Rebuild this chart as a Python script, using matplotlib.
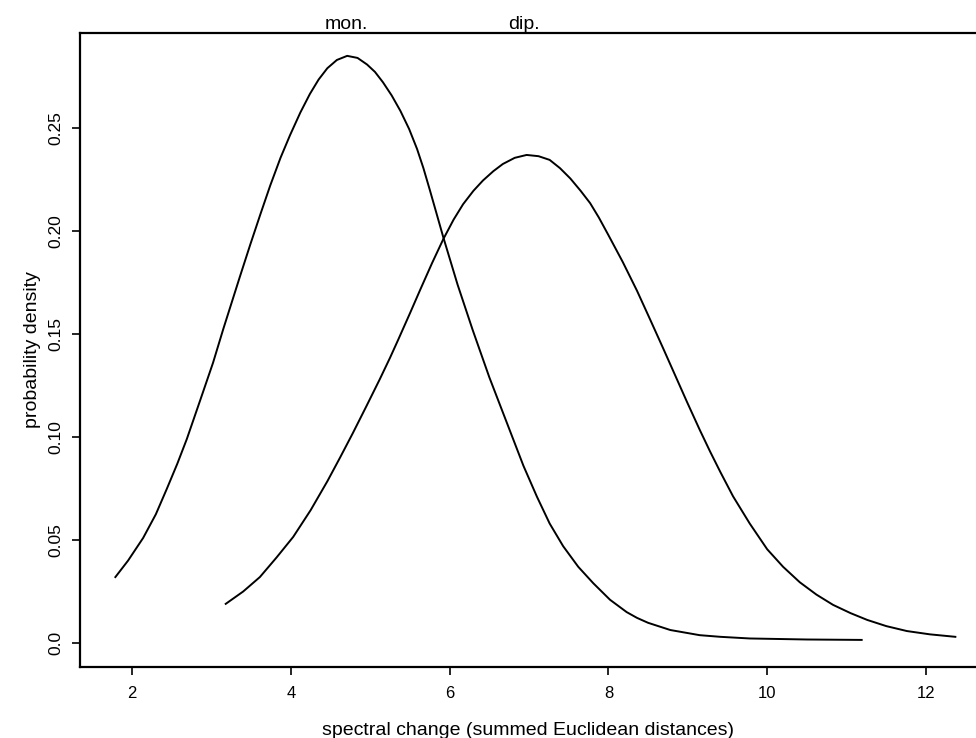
import matplotlib
matplotlib.use("Agg")
import matplotlib.pyplot as plt

plt.rcParams['font.family'] = ['Liberation Sans', 'DejaVu Sans']

# curves
mon_x = [1.79, 1.95, 2.14, 2.30, 2.44, 2.57, 2.69, 2.86, 3.02, 3.15, 3.36, 3.49,
         3.62, 3.74, 3.87, 3.99, 4.12, 4.24, 4.35, 4.46, 4.58, 4.71, 4.84, 4.96,
         5.06, 5.16, 5.27, 5.38, 5.49, 5.59, 5.67, 5.75, 5.83, 5.92, 6.10, 6.29,
         6.50, 6.76, 6.93, 7.10, 7.26, 7.43, 7.62, 7.81, 8.02, 8.23, 8.36, 8.50,
         8.78, 9.15, 9.41, 9.78, 10.5, 11.19]
mon_y = [0.032, 0.040, 0.051, 0.0625, 0.075, 0.087, 0.099, 0.118, 0.136, 0.1525,
         0.178, 0.1935, 0.2085, 0.222, 0.2355, 0.2465, 0.2575, 0.2665, 0.2735,
         0.2790, 0.2830, 0.2850, 0.2840, 0.2808, 0.2772, 0.2722, 0.2658, 0.2583,
         0.2495, 0.2398, 0.2305, 0.2200, 0.2092, 0.197, 0.174, 0.152, 0.129, 0.103,
         0.086, 0.071, 0.058, 0.047, 0.037, 0.029, 0.021, 0.0150, 0.0122, 0.0098,
         0.0063, 0.0038, 0.0030, 0.0022, 0.0017, 0.0015]

dip_x = [3.18, 3.40, 3.61, 3.82, 4.03, 4.25, 4.46, 4.62, 4.78, 4.95, 5.12, 5.25,
         5.35, 5.50, 5.63, 5.78, 5.92, 6.05, 6.17, 6.30, 6.42, 6.55, 6.67, 6.82,
         6.97, 7.12, 7.26, 7.39, 7.52, 7.65, 7.77, 7.88, 8.00, 8.18, 8.36, 8.52,
         8.69, 8.84, 8.99, 9.15, 9.28, 9.41, 9.57, 9.78, 10.0, 10.2, 10.41, 10.62,
         10.83, 11.05, 11.26, 11.5, 11.76, 12.05, 12.37]
dip_y = [0.019, 0.025, 0.032, 0.0415, 0.0515, 0.0645, 0.0785, 0.090, 0.1018,
         0.1148, 0.128, 0.1385, 0.147, 0.160, 0.1715, 0.1845, 0.196, 0.2055,
         0.213, 0.2195, 0.2245, 0.229, 0.2325, 0.2355, 0.2369, 0.2363, 0.2345,
         0.2305, 0.2255, 0.2195, 0.2135, 0.2065, 0.198, 0.185, 0.171, 0.1575, 0.143,
         0.130, 0.117, 0.1035, 0.093, 0.083, 0.0712, 0.058, 0.0455, 0.037, 0.0295,
         0.0235, 0.0185, 0.0145, 0.0112, 0.0082, 0.0058, 0.0042, 0.0030]

x_ticks = [2, 4, 6, 8, 10, 12]
y_ticks = [0.0, 0.05, 0.10, 0.15, 0.20, 0.25]
y_tick_labels = ["0.0", "0.05", "0.10", "0.15", "0.20", "0.25"]

peak_labels = ["mon.", "dip."]
peak_pos = [4.70, 6.93]

fig = plt.figure(figsize=(9.76, 7.38), dpi=100)
ax = fig.add_axes([0.082, 0.0962, 0.918, 0.8591])

ax.plot(mon_x, mon_y, color="black", lw=1.4)
ax.plot(dip_x, dip_y, color="black", lw=1.4)

ax.set_xlim(1.345, 12.63)
ax.set_ylim(-0.01165, 0.2961)

ax.set_xticks(x_ticks)
ax.set_xticklabels([str(t) for t in x_ticks], fontsize=12)
ax.set_yticks(y_ticks)
ax.set_yticklabels(y_tick_labels, fontsize=12.5, rotation=90, va="center")
ax.tick_params(axis="both", direction="out", length=6, width=1.2, color="black")
ax.tick_params(axis="x", pad=8)
ax.tick_params(axis="y", pad=6)

ax.spines["right"].set_visible(False)
for s in ["left", "bottom", "top"]:
    ax.spines[s].set_linewidth(1.6)

ax.set_xlabel("spectral change (summed Euclidean distances)", fontsize=14, labelpad=15)
ax.set_ylabel("probability density", fontsize=14, labelpad=5)

for lab, pos in zip(peak_labels, peak_pos):
    ax.text(pos, 1.007, lab, transform=ax.get_xaxis_transform(),
            ha="center", va="baseline", fontsize=14)

fig.savefig("out.png", dpi=100)
